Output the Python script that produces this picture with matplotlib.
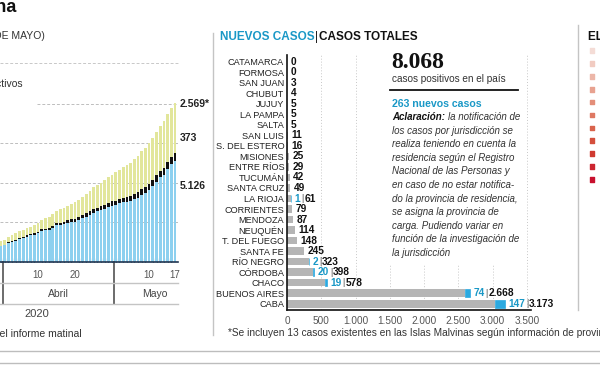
import matplotlib
matplotlib.use("Agg")
import matplotlib.pyplot as plt
from matplotlib import font_manager as fm
from matplotlib.lines import Line2D
from matplotlib.patches import Rectangle
from matplotlib.text import Annotation
import numpy as np

W, H = 600, 365

# left panel: cumulative cases per day, 31 Mar .. 17 May 2020
confirmados = [1054, 1133, 1265, 1353, 1451, 1554, 1628, 1715, 1795, 1894,
               1975, 2142, 2208, 2277, 2443, 2571, 2669, 2758, 2839, 2941,
               3031, 3144, 3288, 3435, 3607, 3780, 3892, 4003, 4127, 4285,
               4428, 4532, 4681, 4783, 4887, 5020, 5208, 5371, 5611, 5776,
               6034, 6278, 6563, 6879, 7134, 7479, 7805, 8068]
fallecidos = [27, 36, 39, 43, 44, 48, 60, 65, 69, 79,
              82, 90, 95, 98, 108, 122, 129, 132, 132, 136,
              147, 152, 165, 176, 179, 185, 192, 197, 207, 214,
              218, 225, 237, 246, 260, 264, 273, 282, 293, 300,
              305, 314, 319, 329, 353, 356, 363, 373]
recuperados = [240, 248, 256, 279, 325, 338, 358, 365, 375, 440,
               440, 468, 515, 559, 596, 596, 685, 709, 737, 785,
               840, 872, 919, 976, 1030, 1107, 1140, 1192, 1256, 1312,
               1362, 1422, 1476, 1524, 1581, 1659, 1757, 1837, 1918, 1984,
               2089, 2134, 2183, 2266, 2385, 2430, 2496, 2569]
dia_ticks = [10, 20, 40, 47]          # days after 31 Mar
dia_ticklabels = ["10", "20", "10", "17"]
cortes_mes = [0.5, 30.5]              # Mar|Abr, Abr|May
meses = ["Abril", "Mayo"]
meses_x = [15.5, 41.5]

# middle panel: cases by jurisdiction
provincias = ["CATAMARCA", "FORMOSA", "SAN JUAN", "CHUBUT", "JUJUY", "LA PAMPA",
              "SALTA", "SAN LUIS", "S. DEL ESTERO", "MISIONES", "ENTRE RÍOS",
              "TUCUMÁN", "SANTA CRUZ", "LA RIOJA", "CORRIENTES", "MENDOZA",
              "NEUQUÉN", "T. DEL FUEGO", "SANTA FE", "RÍO NEGRO", "CÓRDOBA",
              "CHACO", "BUENOS AIRES", "CABA"]
totales = [0, 0, 3, 4, 5, 5, 5, 11, 16, 25, 29, 42, 49, 61, 79, 87, 114,
           148, 245, 323, 398, 578, 2668, 3173]
nuevos = [0, 0, 0, 0, 0, 0, 0, 0, 0, 0, 0, 0, 0, 1, 0, 0, 0, 0, 0, 2, 20,
          19, 74, 147]
x_ticks = [0, 500, 1000, 1500, 2000, 2500, 3000, 3500]

# right panel (cropped): legend swatches
escala = ["#f4dcd6", "#f1cbc1", "#ecb6a8", "#e8a290", "#e38e79", "#de7862",
          "#d9634c", "#d44f3c", "#cf3a31", "#cc2530", "#c8102e"]

names = {f.name for f in fm.fontManager.ttflist}
SANS = "Liberation Sans" if "Liberation Sans" in names else "DejaVu Sans"
NARROW = "Liberation Sans Narrow" if "Liberation Sans Narrow" in names else SANS
SERIF = "Liberation Serif" if "Liberation Serif" in names else "DejaVu Serif"
plt.rcParams["font.family"] = [SANS, "DejaVu Sans"]

AZUL_CLARO = "#8dd0ef"
AMARILLO = "#e2e69b"
AZUL = "#2aa9e0"
TEAL = "#1a98c6"
GRIS = "#b5b5b5"
LINEA = "#c4c4c4"
TXT = "#333333"


def fx(px):
    return px / W


def fy(py):
    return 1 - py / H


def hline(fig, y, x0, x1, **kw):
    fig.add_artist(Line2D([fx(x0), fx(x1)], [fy(y), fy(y)], transform=fig.transFigure, **kw))


def vline(fig, x, y0, y1, **kw):
    fig.add_artist(Line2D([fx(x), fx(x)], [fy(y0), fy(y1)], transform=fig.transFigure, **kw))


def after(fig, prev, s, gap=0.5, **kw):
    # text placed right after another text artist
    a = Annotation(s, xy=(1, 0.5), xycoords=prev, xytext=(gap, 0), textcoords="offset points",
                   va="center", ha="left", annotation_clip=False, zorder=3, **kw)
    fig.add_artist(a)
    return a


def miles(v):
    return f"{v:,}".replace(",", ".")


fig = plt.figure(figsize=(W / 100, H / 100), dpi=100)

# ---------- left panel ----------
conf = np.array(confirmados)
fall = np.array(fallecidos)
recu = np.array(recuperados)
activos = conf - fall - recu
dias = np.arange(len(conf))

ax1 = fig.add_axes([fx(0), fy(262), fx(178), (262 - 99) / H])
ax1.bar(dias, activos, width=0.74, color=AZUL_CLARO, zorder=2)
ax1.bar(dias, fall, bottom=activos, width=0.74, color="#111111", zorder=2)
ax1.bar(dias, recu, bottom=activos + fall, width=0.74, color=AMARILLO, zorder=2)
ax1.set_xlim(-0.27, 47.8)
ax1.set_ylim(0, 8250)
for lvl, x0 in [(2000, 0), (4000, 0), (6000, 0), (8000, 0.21)]:
    ax1.axhline(lvl, xmin=x0, color="#bdbdbd", lw=0.7, ls=(0, (3, 2)), zorder=0)
for s in ["top", "right", "left"]:
    ax1.spines[s].set_visible(False)
ax1.spines["bottom"].set_color("#1f3550")
ax1.spines["bottom"].set_linewidth(1.2)
ax1.set_yticks([])
ax1.set_xticks(dia_ticks)
ax1.set_xticklabels(dia_ticklabels, fontsize=7, color="#555555")
ax1.set_xticks(dias, minor=True)
ax1.tick_params(axis="x", which="major", length=0, pad=6)
ax1.tick_params(axis="x", which="minor", direction="in", length=3, width=0.8, color="#1f3550")
for c in cortes_mes:
    ax1.plot([c, c], [0, -0.258], transform=ax1.get_xaxis_transform(), clip_on=False,
             color="#444444", lw=1.1)
for m, mx in zip(meses, meses_x):
    ax1.text(mx, -0.196, m, transform=ax1.get_xaxis_transform(), ha="center", va="center",
             fontsize=7.5, color="#444444")
hline(fig, 283, 0, 178, color=LINEA, lw=1)
hline(fig, 304, 0, 178, color=LINEA, lw=1)
fig.text(fx(37), fy(314), "2020", ha="center", va="center", fontsize=8, color="#444444")
fig.text(fx(82), fy(334), "Fuente: Ministerio de Salud, datos del informe matinal",
         ha="right", va="center", fontsize=7.5, color=TXT)

fig.text(fx(16), fy(8), "Coronavirus en Argentina", ha="right", va="center",
         fontsize=13, fontweight="bold", color="#111111")
fig.text(fx(45), fy(36), "(AL 17 DE MAYO)", ha="right", va="center", fontsize=7.5, color=TXT)
hline(fig, 63, 0, 178, color="#c8c8c8", lw=0.7, ls=(0, (3, 2)))
fig.text(fx(23), fy(84), "Casos activos", ha="right", va="center", fontsize=7.5, color=TXT)

lab = dict(ha="left", va="center", fontsize=7.5, fontweight="bold", color="#222222")
fig.text(fx(180), fy(104), miles(recu[-1]) + "*", **lab)
fig.text(fx(180), fy(138), miles(fall[-1]), **lab)
fig.text(fx(180), fy(186), miles(activos[-1]), **lab)

vline(fig, 213, 33, 335, color=LINEA, lw=1)

# ---------- middle panel ----------
tot = np.array(totales)
nue = np.array(nuevos)
filas = np.arange(len(provincias))

ax2 = fig.add_axes([fx(287), fy(309.5), (531 - 287) / W, (309.5 - 55) / H])
ax2.barh(filas, tot - nue, height=0.72, color=GRIS, zorder=2)
con_nuevos = nue > 0
ax2.barh(filas[con_nuevos], nue[con_nuevos], left=(tot - nue)[con_nuevos], height=0.72,
         color=AZUL, edgecolor=AZUL, lw=0.5, zorder=2)
ax2.set_xlim(0, 3558)
ax2.set_ylim(23.55, -0.64)
ax2.set_yticks(filas)
ax2.set_yticklabels(provincias, fontsize=6.6, family=NARROW, color="#222222")
ax2.set_xticks(x_ticks)
ax2.set_xticklabels([miles(v) for v in x_ticks], fontsize=7.2, color="#555555")
ax2.tick_params(axis="both", length=0)
ax2.tick_params(axis="y", pad=2)
ax2.tick_params(axis="x", pad=5)
for s in ["top", "right"]:
    ax2.spines[s].set_visible(False)
for s in ["left", "bottom"]:
    ax2.spines[s].set_color("#111111")
    ax2.spines[s].set_linewidth(1.2)
for v in x_ticks[1:]:
    ax2.axvline(v, color="#c8c8c8", lw=0.7, ls=(0, (1, 2)), zorder=0)

num = dict(va="center", ha="left", fontsize=7.3, fontweight="bold", family=NARROW)
for i, (t, n) in enumerate(zip(totales, nuevos)):
    if n > 0:
        a = ax2.annotate(str(n), xy=(t, i), xytext=(2.5, 0), textcoords="offset points",
                         color=TEAL, **num)
        b = ax2.annotate("|", xy=(1, 0.5), xycoords=a, xytext=(0.6, 0),
                         textcoords="offset points", va="center", ha="left",
                         fontsize=6.5, color="#555555")
        ax2.annotate(miles(t), xy=(1, 0.5), xycoords=b, xytext=(0.6, 0),
                     textcoords="offset points", color="#111111", **num)
    else:
        ax2.annotate(miles(t), xy=(t, i), xytext=(2.5, 0), textcoords="offset points",
                     color="#111111", **num)

h1 = fig.text(fx(220), fy(37), "NUEVOS CASOS", ha="left", va="center", fontsize=8.5,
              fontweight="bold", family=NARROW, color=TEAL)
h2 = after(fig, h1, "|", fontsize=8.5, color="#222222")
after(fig, h2, "CASOS TOTALES", fontsize=8.5, fontweight="bold", family=NARROW,
      color="#111111")

# text box over the gridlines
fig.add_artist(Rectangle((fx(386), fy(265)), fx(522) - fx(386), fy(45) - fy(265),
                         transform=fig.transFigure, facecolor="white", edgecolor="none",
                         zorder=1))
fig.text(fx(391), fy(62), miles(int(tot.sum())), ha="left", va="center", fontsize=17,
         fontweight="bold", family=SERIF, color="#111111", zorder=3)
fig.text(fx(392), fy(79), "casos positivos en el país", ha="left", va="center",
         fontsize=7.2, color=TXT, zorder=3)
hline(fig, 90, 390, 518, color="#111111", lw=1.3, zorder=3)
fig.text(fx(392), fy(104), f"{int(nue.sum())} nuevos casos", ha="left", va="center",
         fontsize=7.6, fontweight="bold", color=TEAL, zorder=3)
aclaracion = ["la notificación de",
              "los casos por jurisdicción se",
              "realiza teniendo en cuenta la",
              "residencia según el Registro",
              "Nacional de las Personas y",
              "en caso de no estar notifica-",
              "do la provincia de residencia,",
              "se asigna la provincia de",
              "carga. Pudiendo variar en",
              "función de la investigación de",
              "la jurisdicción"]
for k, linea in enumerate(aclaracion):
    yy = 117 + 13.6 * k
    if k == 0:
        t0 = fig.text(fx(392), fy(yy), "Aclaración:", ha="left", va="center", fontsize=7,
                      style="italic", fontweight="bold", color="#111111", zorder=3)
        after(fig, t0, linea, gap=2, fontsize=7, style="italic", color=TXT)
    else:
        fig.text(fx(392), fy(yy), linea, ha="left", va="center", fontsize=7,
                 style="italic", color=TXT, zorder=3)

fig.text(fx(228), fy(333),
         "*Se incluyen 13 casos existentes en las Islas Malvinas según información de provincia",
         ha="left", va="center", fontsize=7.3, color=TXT)

# ---------- right panel (cropped) ----------
vline(fig, 578, 25, 310, color=LINEA, lw=1)
fig.text(fx(588), fy(37), "EL MAPA", ha="left", va="center", fontsize=8.5,
         fontweight="bold", color="#111111")
ax3 = fig.add_axes([fx(586), fy(186), fx(12), (186 - 44) / H])
ax3.scatter(np.zeros(len(escala)), np.arange(len(escala)), marker="s", s=12, c=escala)
ax3.set_xlim(-1, 1)
ax3.set_ylim(len(escala) - 0.5, -0.5)
ax3.axis("off")

hline(fig, 351, 0, 600, color="#bdbdbd", lw=1)
hline(fig, 363, 0, 600, color="#bdbdbd", lw=1)

fig.savefig("out.png", dpi=100)
